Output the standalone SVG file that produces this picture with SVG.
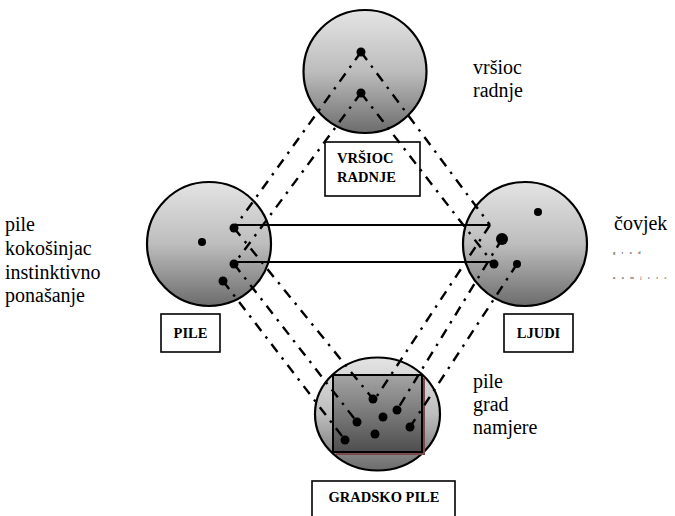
<svg xmlns="http://www.w3.org/2000/svg" width="675" height="516" viewBox="0 0 675 516">
  <defs>
    <linearGradient id="ballFill" x1="0" y1="0" x2="0" y2="1">
      <stop offset="0" stop-color="#e4e4e4"/>
      <stop offset="0.5" stop-color="#bdbdbd"/>
      <stop offset="1" stop-color="#6c6c6c"/>
    </linearGradient>
    <linearGradient id="squareFill" x1="0" y1="0" x2="0" y2="1">
      <stop offset="0" stop-color="#a4a4a4"/>
      <stop offset="1" stop-color="#4e4e4e"/>
    </linearGradient>
  </defs>
  <style>
    .ball { fill: url(#ballFill); stroke: #000; stroke-width: 2.2; }
    .dot { fill: #000; }
    .box { fill: #fff; stroke: #000; stroke-width: 1.6; }
    text { font-family: "Liberation Serif", "Times New Roman", serif; fill: #000; }
    .boxlabel { font-weight: bold; font-size: 14.5px; }
    .label { font-size: 20px; }
    .tiny { font-size: 4.5px; letter-spacing: 6.5px; }
    .dashdot { fill: none; stroke: #000; stroke-width: 2.4; stroke-dasharray: 10 7 2.5 7; }
    .solid { fill: none; stroke: #000; stroke-width: 2; }
  </style>

  <!-- agent circle -->
  <g id="vrsioc-radnje">
    <circle class="ball" cx="365" cy="71.5" r="61.5"/>
    <circle class="dot" cx="361" cy="52" r="4.5"/>
    <circle class="dot" cx="361" cy="93" r="4.5"/>
    <rect class="box" x="325" y="142" width="95" height="54"/>
    <text class="boxlabel" x="337" y="163">VRŠIOC</text>
    <text class="boxlabel" x="337" y="182">RADNJE</text>
    <text class="label" x="473" y="74">vršioc</text>
    <text class="label" x="473" y="97">radnje</text>
  </g>

  <!-- chickens circle -->
  <g id="pile">
    <circle class="ball" cx="209" cy="244" r="62"/>
    <circle class="dot" cx="234" cy="228" r="4.5"/>
    <circle class="dot" cx="234" cy="264" r="4.5"/>
    <circle class="dot" cx="202" cy="242" r="4"/>
    <circle class="dot" cx="223" cy="281" r="4.5"/>
    <rect class="box" x="161" y="314" width="59" height="38"/>
    <text class="boxlabel" x="190.5" y="338" text-anchor="middle">PILE</text>
    <text class="label" x="5" y="231">pile</text>
    <text class="label" x="5" y="255">kokošinjac</text>
    <text class="label" x="5" y="279">instinktivno</text>
    <text class="label" x="5" y="302">ponašanje</text>
  </g>

  <!-- people circle -->
  <g id="ljudi">
    <circle class="ball" cx="525" cy="244" r="62"/>
    <circle class="dot" cx="538" cy="212" r="4"/>
    <circle class="dot" cx="502" cy="239" r="6"/>
    <circle class="dot" cx="494" cy="264" r="4.5"/>
    <circle class="dot" cx="517" cy="264" r="4"/>
    <rect class="box" x="504" y="314" width="69" height="38"/>
    <text class="boxlabel" x="538.5" y="338" text-anchor="middle">LJUDI</text>
    <text class="label" x="614" y="230">čovjek</text>
    <text class="tiny" x="613" y="254">grad</text>
    <text class="tiny" x="613" y="279">namjere</text>
  </g>

  <!-- town chickens circle -->
  <g id="gradsko-pile">
    <ellipse class="ball" cx="377.5" cy="414" rx="62.5" ry="56.5"/>
    <rect x="336" y="378" width="89" height="77" fill="#7a4a4a"/>
    <rect x="333" y="375" width="89" height="77" fill="url(#squareFill)" stroke="#000" stroke-width="2"/>
    <circle class="dot" cx="373" cy="399" r="4.5"/>
    <circle class="dot" cx="397" cy="410" r="4.5"/>
    <circle class="dot" cx="383" cy="417" r="4.5"/>
    <circle class="dot" cx="357" cy="422" r="4.5"/>
    <circle class="dot" cx="410" cy="427" r="4.5"/>
    <circle class="dot" cx="375" cy="434" r="4.5"/>
    <circle class="dot" cx="345" cy="440" r="4.5"/>
    <rect class="box" x="312" y="481" width="143" height="45"/>
    <text class="boxlabel" x="384" y="502" text-anchor="middle">GRADSKO PILE</text>
    <text class="label" x="473" y="388">pile</text>
    <text class="label" x="473" y="411">grad</text>
    <text class="label" x="473" y="434">namjere</text>
  </g>

  <!-- connectors -->
  <g id="connectors">
    <line class="solid" x1="236" y1="225" x2="490" y2="225"/>
    <line class="solid" x1="236" y1="262" x2="492" y2="262"/>
    <line class="dashdot" x1="361" y1="52" x2="234" y2="228"/>
    <line class="dashdot" x1="361" y1="93" x2="234" y2="264"/>
    <line class="dashdot" x1="361" y1="52" x2="490" y2="225"/>
    <line class="dashdot" x1="361" y1="93" x2="492" y2="262"/>
    <line class="dashdot" x1="234" y1="228" x2="373" y2="399"/>
    <line class="dashdot" x1="234" y1="264" x2="357" y2="422"/>
    <line class="dashdot" x1="223" y1="281" x2="345" y2="440"/>
    <line class="dashdot" x1="490" y1="225" x2="375" y2="399"/>
    <line class="dashdot" x1="502" y1="239" x2="397" y2="410"/>
    <line class="dashdot" x1="517" y1="264" x2="410" y2="427"/>
  </g>
</svg>
